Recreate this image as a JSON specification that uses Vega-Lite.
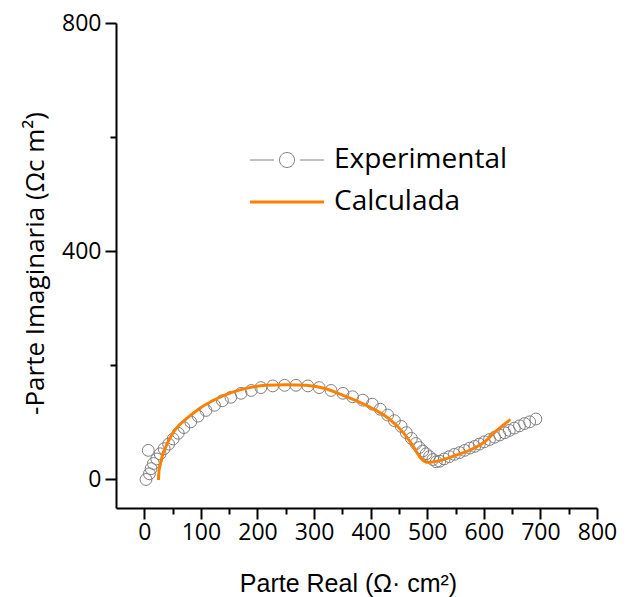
{
  "$schema": "https://vega.github.io/schema/vega-lite/v6.json",
  "width": 481,
  "height": 485,
  "autosize": "none",
  "padding": {"left": 116, "top": 23, "right": 31, "bottom": 89},
  "background": "white",
  "config": {"view": {"stroke": null}},
  "datasets": {
    "exp": [
      {"x": 3, "y": 0, "series": "Experimental"},
      {"x": 7, "y": 51, "series": "Experimental"},
      {"x": 9, "y": 10, "series": "Experimental"},
      {"x": 12, "y": 19, "series": "Experimental"},
      {"x": 16, "y": 28, "series": "Experimental"},
      {"x": 22, "y": 36, "series": "Experimental"},
      {"x": 28, "y": 45, "series": "Experimental"},
      {"x": 35, "y": 54, "series": "Experimental"},
      {"x": 43, "y": 62, "series": "Experimental"},
      {"x": 51, "y": 71, "series": "Experimental"},
      {"x": 60, "y": 81, "series": "Experimental"},
      {"x": 70, "y": 91, "series": "Experimental"},
      {"x": 82, "y": 101, "series": "Experimental"},
      {"x": 95, "y": 111, "series": "Experimental"},
      {"x": 109, "y": 121, "series": "Experimental"},
      {"x": 124, "y": 130, "series": "Experimental"},
      {"x": 138, "y": 138, "series": "Experimental"},
      {"x": 153, "y": 144, "series": "Experimental"},
      {"x": 171, "y": 151, "series": "Experimental"},
      {"x": 189, "y": 156, "series": "Experimental"},
      {"x": 206, "y": 161, "series": "Experimental"},
      {"x": 227, "y": 164, "series": "Experimental"},
      {"x": 248, "y": 165, "series": "Experimental"},
      {"x": 268, "y": 165, "series": "Experimental"},
      {"x": 289, "y": 164, "series": "Experimental"},
      {"x": 309, "y": 161, "series": "Experimental"},
      {"x": 330, "y": 156, "series": "Experimental"},
      {"x": 351, "y": 151, "series": "Experimental"},
      {"x": 368, "y": 145, "series": "Experimental"},
      {"x": 386, "y": 139, "series": "Experimental"},
      {"x": 403, "y": 132, "series": "Experimental"},
      {"x": 417, "y": 123, "series": "Experimental"},
      {"x": 430, "y": 113, "series": "Experimental"},
      {"x": 442, "y": 103, "series": "Experimental"},
      {"x": 454, "y": 93, "series": "Experimental"},
      {"x": 463, "y": 82, "series": "Experimental"},
      {"x": 472, "y": 72, "series": "Experimental"},
      {"x": 480, "y": 63, "series": "Experimental"},
      {"x": 486, "y": 56, "series": "Experimental"},
      {"x": 492, "y": 50, "series": "Experimental"},
      {"x": 498, "y": 45, "series": "Experimental"},
      {"x": 504, "y": 40, "series": "Experimental"},
      {"x": 510, "y": 35, "series": "Experimental"},
      {"x": 516, "y": 31, "series": "Experimental"},
      {"x": 522, "y": 32, "series": "Experimental"},
      {"x": 530, "y": 36, "series": "Experimental"},
      {"x": 539, "y": 40, "series": "Experimental"},
      {"x": 548, "y": 44, "series": "Experimental"},
      {"x": 557, "y": 47, "series": "Experimental"},
      {"x": 566, "y": 51, "series": "Experimental"},
      {"x": 575, "y": 55, "series": "Experimental"},
      {"x": 584, "y": 58, "series": "Experimental"},
      {"x": 592, "y": 62, "series": "Experimental"},
      {"x": 601, "y": 66, "series": "Experimental"},
      {"x": 610, "y": 70, "series": "Experimental"},
      {"x": 619, "y": 74, "series": "Experimental"},
      {"x": 628, "y": 78, "series": "Experimental"},
      {"x": 637, "y": 82, "series": "Experimental"},
      {"x": 645, "y": 86, "series": "Experimental"},
      {"x": 654, "y": 90, "series": "Experimental"},
      {"x": 663, "y": 94, "series": "Experimental"},
      {"x": 672, "y": 98, "series": "Experimental"},
      {"x": 681, "y": 101, "series": "Experimental"},
      {"x": 692, "y": 106, "series": "Experimental"}
    ],
    "calc": [
      {"x": 25, "y": -1, "series": "Calculada"},
      {"x": 26, "y": 15, "series": "Calculada"},
      {"x": 28, "y": 25, "series": "Calculada"},
      {"x": 32, "y": 42, "series": "Calculada"},
      {"x": 38, "y": 57, "series": "Calculada"},
      {"x": 45, "y": 72, "series": "Calculada"},
      {"x": 56, "y": 89, "series": "Calculada"},
      {"x": 74, "y": 106, "series": "Calculada"},
      {"x": 97, "y": 124, "series": "Calculada"},
      {"x": 127, "y": 141, "series": "Calculada"},
      {"x": 156, "y": 153, "series": "Calculada"},
      {"x": 186, "y": 161, "series": "Calculada"},
      {"x": 215, "y": 165, "series": "Calculada"},
      {"x": 251, "y": 166, "series": "Calculada"},
      {"x": 286, "y": 165, "series": "Calculada"},
      {"x": 321, "y": 159, "series": "Calculada"},
      {"x": 345, "y": 150, "series": "Calculada"},
      {"x": 374, "y": 138, "series": "Calculada"},
      {"x": 404, "y": 124, "series": "Calculada"},
      {"x": 433, "y": 106, "series": "Calculada"},
      {"x": 457, "y": 83, "series": "Calculada"},
      {"x": 474, "y": 60, "series": "Calculada"},
      {"x": 489, "y": 37, "series": "Calculada"},
      {"x": 501, "y": 30, "series": "Calculada"},
      {"x": 522, "y": 33, "series": "Calculada"},
      {"x": 549, "y": 42, "series": "Calculada"},
      {"x": 579, "y": 53, "series": "Calculada"},
      {"x": 604, "y": 68, "series": "Calculada"},
      {"x": 616, "y": 80, "series": "Calculada"},
      {"x": 634, "y": 95, "series": "Calculada"},
      {"x": 647, "y": 105, "series": "Calculada"}
    ]
  },
  "encoding": {
    "x": {
      "field": "x", "type": "quantitative",
      "scale": {"domain": [-50, 800], "nice": false, "zero": false},
      "axis": {
        "title": "Parte Real (Ω· cm²)",
        "titleFont": "Liberation Sans", "titleFontSize": 25, "titleFontWeight": "normal", "titleColor": "black",
        "titleBaseline": "alphabetic", "titleY": 83, "titleX": 232,
        "values": [0, 50, 100, 150, 200, 250, 300, 350, 400, 450, 500, 550, 600, 650, 700, 750, 800],
        "labelExpr": "datum.value % 100 === 0 ? datum.label : ''",
        "labelFont": "Open Sans", "labelFontSize": 23, "labelColor": "black",
        "labelFlush": false, "labelOverlap": false, "labelPadding": 2,
        "tickSize": {"condition": {"test": "datum.value % 100 === 0", "value": 11}, "value": 6},
        "tickColor": "black", "tickWidth": 2,
        "domainColor": "black", "domainWidth": 2, "grid": false
      }
    },
    "y": {
      "field": "y", "type": "quantitative",
      "scale": {"domain": [-50, 800], "nice": false, "zero": false},
      "axis": {
        "title": "-Parte Imaginaria (Ωc m²)",
        "titleFont": "Open Sans", "titleFontSize": 26, "titleFontWeight": "normal", "titleColor": "black",
        "titleBaseline": "alphabetic", "titleX": -73, "titleY": 240,
        "values": [0, 200, 400, 600, 800],
        "labelExpr": "datum.value % 400 === 0 ? datum.label : ''",
        "labelFont": "Open Sans", "labelFontSize": 23, "labelColor": "black",
        "labelFlush": false, "labelOverlap": false, "labelPadding": 4,
        "tickSize": {"condition": {"test": "datum.value % 400 === 0", "value": 11}, "value": 6},
        "tickColor": "black", "tickWidth": 2,
        "domainColor": "black", "domainWidth": 2, "grid": false
      }
    },
    "color": {
      "field": "series", "type": "nominal",
      "scale": {"domain": ["Experimental", "Calculada"], "range": ["#808080", "#FF8000"]},
      "legend": {
        "title": null,
        "orient": "none", "legendX": 125, "legendY": 123,
        "padding": 0,
        "labelFont": "Open Sans", "labelFontSize": 28, "labelColor": "black", "labelLimit": 0,
        "symbolSize": 100, "symbolOffset": 32, "labelOffset": 33, "rowPadding": 14,
        "encode": {
          "symbols": {
            "update": {
              "shape": {"signal": "datum.value === 'Experimental' ? 'M-7.4,0L-2.6,0M2.6,0L7.4,0M-1.5,0A1.5,1.5,0,1,0,1.5,0A1.5,1.5,0,1,0,-1.5,0' : 'M-7.4,0L7.4,0'"},
              "stroke": {"signal": "datum.value === 'Experimental' ? '#8c8c8c' : '#FF8000'"},
              "strokeWidth": {"signal": "datum.value === 'Experimental' ? 1 : 3"},
              "fill": {"value": "transparent"},
              "opacity": {"value": 1}
            }
          }
        }
      }
    }
  },
  "layer": [
    {
      "data": {"name": "exp"},
      "mark": {"type": "point", "filled": false, "size": 140, "strokeWidth": 1, "opacity": 1}
    },
    {
      "data": {"name": "calc"},
      "mark": {"type": "line", "strokeWidth": 3, "interpolate": "monotone"}
    }
  ]
}
